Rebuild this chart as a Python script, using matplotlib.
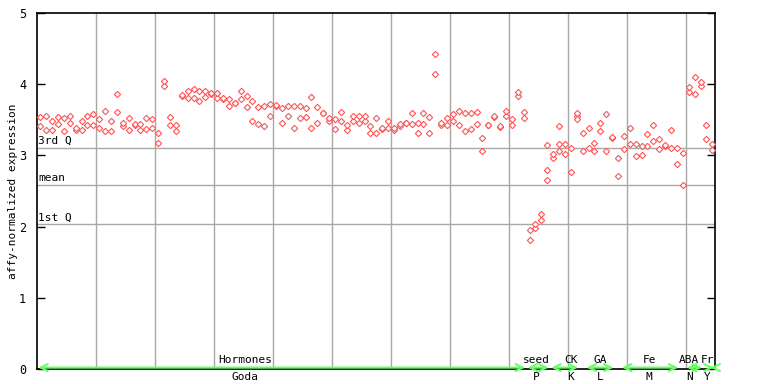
import matplotlib
matplotlib.use("Agg")
import matplotlib.pyplot as plt
import numpy as np

# two probe values per sample (115 samples)
probe_a = [3.54, 3.55, 3.49, 3.54, 3.52, 3.56, 3.38, 3.49, 3.56, 3.58,
           3.51, 3.63, 3.49, 3.86, 3.46, 3.52, 3.44, 3.44, 3.52, 3.51,
           3.32, 4.05, 3.54, 3.42, 3.85, 3.91, 3.93, 3.91, 3.91, 3.87,
           3.87, 3.80, 3.79, 3.74, 3.90, 3.84, 3.77, 3.68, 3.70, 3.72,
           3.71, 3.66, 3.70, 3.69, 3.69, 3.66, 3.82, 3.68, 3.60, 3.52,
           3.51, 3.61, 3.42, 3.56, 3.56, 3.55, 3.41, 3.52, 3.38, 3.49,
           3.38, 3.44, 3.46, 3.59, 3.46, 3.59, 3.54, 4.43, 3.45, 3.52,
           3.58, 3.63, 3.59, 3.59, 3.61, 3.24, 3.43, 3.55, 3.41, 3.63,
           3.51, 3.89, 3.61, 1.95, 2.03, 2.17, 3.14, 3.02, 3.41, 3.16,
           3.11, 3.59, 3.31, 3.38, 3.18, 3.45, 3.58, 3.26, 2.97, 3.27,
           3.39, 3.16, 3.13, 3.30, 3.42, 3.23, 3.14, 3.35, 3.10, 3.04,
           3.96, 4.10, 4.03, 3.42, 3.16]
probe_b = [3.41, 3.35, 3.35, 3.44, 3.34, 3.46, 3.35, 3.35, 3.42, 3.42,
           3.38, 3.34, 3.34, 3.61, 3.41, 3.35, 3.43, 3.35, 3.37, 3.38,
           3.17, 3.97, 3.42, 3.34, 3.84, 3.80, 3.80, 3.77, 3.82, 3.86,
           3.80, 3.79, 3.69, 3.73, 3.79, 3.68, 3.48, 3.44, 3.41, 3.55,
           3.70, 3.46, 3.55, 3.39, 3.52, 3.54, 3.39, 3.45, 3.59, 3.48,
           3.37, 3.48, 3.35, 3.48, 3.45, 3.49, 3.32, 3.32, 3.37, 3.39,
           3.35, 3.41, 3.45, 3.44, 3.31, 3.44, 3.31, 4.14, 3.42, 3.42,
           3.48, 3.42, 3.34, 3.37, 3.44, 3.06, 3.42, 3.54, 3.40, 3.56,
           3.42, 3.83, 3.52, 1.81, 1.98, 2.09, 2.66, 2.97, 3.16, 3.02,
           2.76, 3.55, 3.06, 3.11, 3.06, 3.34, 3.06, 3.25, 2.71, 3.09,
           3.16, 2.99, 3.00, 3.13, 3.20, 3.09, 3.13, 3.10, 2.88, 2.58,
           3.89, 3.86, 3.97, 3.23, 3.07]
extra_idx = [86, 88, 91]
extra_val = [2.79, 3.06, 3.51]

q3, mean, q1 = 3.10, 2.58, 2.03

# experiment groups along the x axis
grp_top = ["Hormones", "seed", "CK", "GA", "Fe", "ABA", "Fr"]
grp_bot = ["Goda", "P", "K", "L", "M", "N", "Y"]
grp_start = [0, 83, 87, 93, 99, 110, 114]
grp_end = [83, 87, 92, 98, 109, 113, 115]
grp_text_x = [35.2, 84.7, 90.5, 95.5, 103.8, 110.6, 113.7]

RED = "#ff5555"
GREEN = "#66ff66"
GRID = "#a8a8a8"
MONO = "DejaVu Sans Mono"

fig = plt.figure(figsize=(7.68, 3.84), dpi=100)
ax = fig.add_axes([37.3 / 768, 1 - 369 / 384, (715.3 - 37.3) / 768, (369 - 13) / 384])
n = len(probe_a)
xs = np.arange(n) + 0.5

for gx in range(10, 115, 10):
    ax.axvline(gx, color=GRID, lw=1, zorder=1)
for v, lab in [(q3, "3rd Q"), (mean, "mean"), (q1, "1st Q")]:
    ax.axhline(v, color=GRID, lw=1, zorder=1)
    ax.text(0.1, v + 0.03, lab, family=MONO, fontsize=8, ha="left", va="bottom", zorder=3)

mk = dict(marker="D", ms=3.2, mfc="white", mec=RED, mew=0.8, ls="none", zorder=4)
ax.plot(xs, probe_b, **mk)
ax.plot(xs, probe_a, **mk)
ax.plot(np.array(extra_idx) + 0.5, extra_val, **mk)

ax.set_xlim(0, 115)
ax.set_ylim(0, 5)
ax.set_xticks([])
ax.set_yticks(range(6))
ax.set_yticklabels([str(i) for i in range(6)], family=MONO, fontsize=8.5)
ax.tick_params(axis="y", direction="in", length=6, width=1, color="black",
               right=True, pad=8)
for s in ax.spines.values():
    s.set_color("black")
    s.set_linewidth(1.2)
ax.set_ylabel("affy-normalized expression", family=MONO, fontsize=8, labelpad=1)

for top, bot, s, e, tx in zip(grp_top, grp_bot, grp_start, grp_end, grp_text_x):
    ax.annotate("", xy=(e - 0.3, 0.02), xytext=(s + 0.2, 0.02),
                arrowprops=dict(arrowstyle="<->,head_length=0.5,head_width=0.25",
                                color=GREEN, lw=1.5, mutation_scale=10,
                                shrinkA=0, shrinkB=0),
                annotation_clip=False, zorder=5)
    ax.text(tx, 0.06, top, family=MONO, fontsize=8, ha="center", va="bottom")
    ax.text(tx, -0.04, bot, family=MONO, fontsize=8, ha="center", va="top")

fig.savefig("out.png", dpi=100)
